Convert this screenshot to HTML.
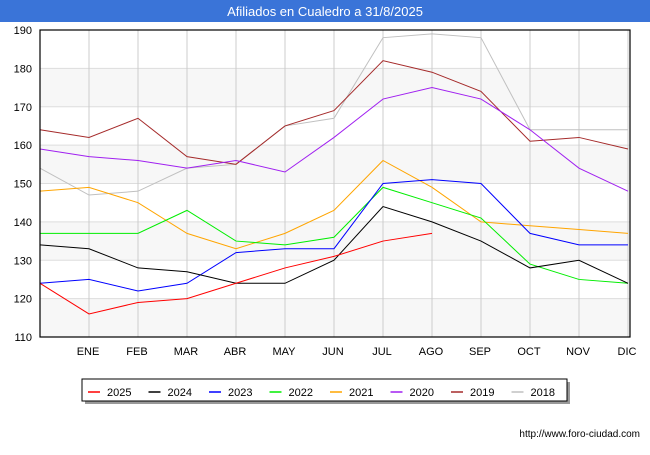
<!DOCTYPE html>
<html><head><meta charset="utf-8"><style>
body{margin:0;width:650px;height:450px;background:#fff;font-family:"Liberation Sans",sans-serif;overflow:hidden}
</style></head><body>
<svg id="c" width="650" height="450" xmlns="http://www.w3.org/2000/svg">
<rect x="0" y="0" width="650" height="22" fill="#3a74d8"/>
<text x="325" y="16" text-anchor="middle" fill="#fff" font-size="13">Afiliados en Cualedro a 31/8/2025</text>
<g id="grid"></g><g id="series"></g>
<rect x="40" y="30" width="590" height="307" fill="none" stroke="#000" stroke-width="1.2"/>
<g id="axes"></g>
<rect x="85" y="382" width="485" height="22" fill="#999"/>
<rect x="82" y="379" width="485" height="22" fill="#fff" stroke="#000"/>
<g id="legend"></g>
<text x="640" y="437" text-anchor="end" font-size="10" fill="#000">http://www.foro-ciudad.com</text>
</svg>
<script>
const months=["","ENE","FEB","MAR","ABR","MAY","JUN","JUL","AGO","SEP","OCT","NOV","DIC"];
const yTicks=[110,120,130,140,150,160,170,180,190];
const names=["2025","2024","2023","2022","2021","2020","2019","2018"];
const colors=["#ff0000","#000000","#0000ff","#00ee00","#ffa500","#a020f0","#a52a2a","#c0c0c0"];
const s2025=[124,116,119,120,124,128,131,135,137];
const s2024=[134,133,128,127,124,124,130,144,140,135,128,130,124];
const s2023=[124,125,122,124,132,133,133,150,151,150,137,134,134];
const s2022=[137,137,137,143,135,134,136,149,145,141,129,125,124];
const s2021=[148,149,145,137,133,137,143,156,149,140,139,138,137];
const s2020=[159,157,156,154,156,153,162,172,175,172,164,154,148];
const s2019=[164,162,167,157,155,165,169,182,179,174,161,162,159];
const s2018=[154,147,148,154,155,165,167,188,189,188,164,164,164];
const series=[s2025,s2024,s2023,s2022,s2021,s2020,s2019,s2018];
const NS="http://www.w3.org/2000/svg";
const X=i=>40+i*49, Y=v=>337-(v-110)*307/80;
function mk(t,a,p){const e=document.createElementNS(NS,t);for(const k in a)e.setAttribute(k,a[k]);p.appendChild(e);return e;}
const g=document.getElementById('grid'),ax=document.getElementById('axes'),sg=document.getElementById('series'),lg=document.getElementById('legend');
for(let i=0;i<yTicks.length-1;i++){if(i%2==0){const r=mk('rect',{x:40,y:Y(yTicks[i+1]),width:590,height:Y(yTicks[i])-Y(yTicks[i+1]),fill:'#f7f7f7'},g);

}}
yTicks.forEach(v=>{const l=mk('line',{x1:40,x2:630,y1:Y(v),y2:Y(v),stroke:'#ddd'},g);


const t=mk('text',{x:32,y:Y(v)+4,'text-anchor':'end','font-size':11},ax);t.textContent=v;

});
months.forEach((m,i)=>{if(i>0){const l=mk('line',{x1:X(i),x2:X(i),y1:30,y2:337,stroke:'#ccc'},g);


const t=mk('text',{x:X(i)-1,y:355,'text-anchor':'middle','font-size':11},ax);t.textContent=m;

}});
for(let k=series.length-1;k>=0;k--){const p=mk('polyline',{points:series[k].map((v,i)=>X(i)+','+Y(v)).join(' '),fill:'none',stroke:colors[k],'stroke-width':1},sg);

}
names.forEach((n,k)=>{const x=88+k*60.5;const l=mk('line',{x1:x,x2:x+12,y1:392,y2:392,stroke:colors[k],'stroke-width':1.5},lg);


const t=mk('text',{x:x+19,y:396,'font-size':11},lg);t.textContent=n;

});
</script>
</body></html>
